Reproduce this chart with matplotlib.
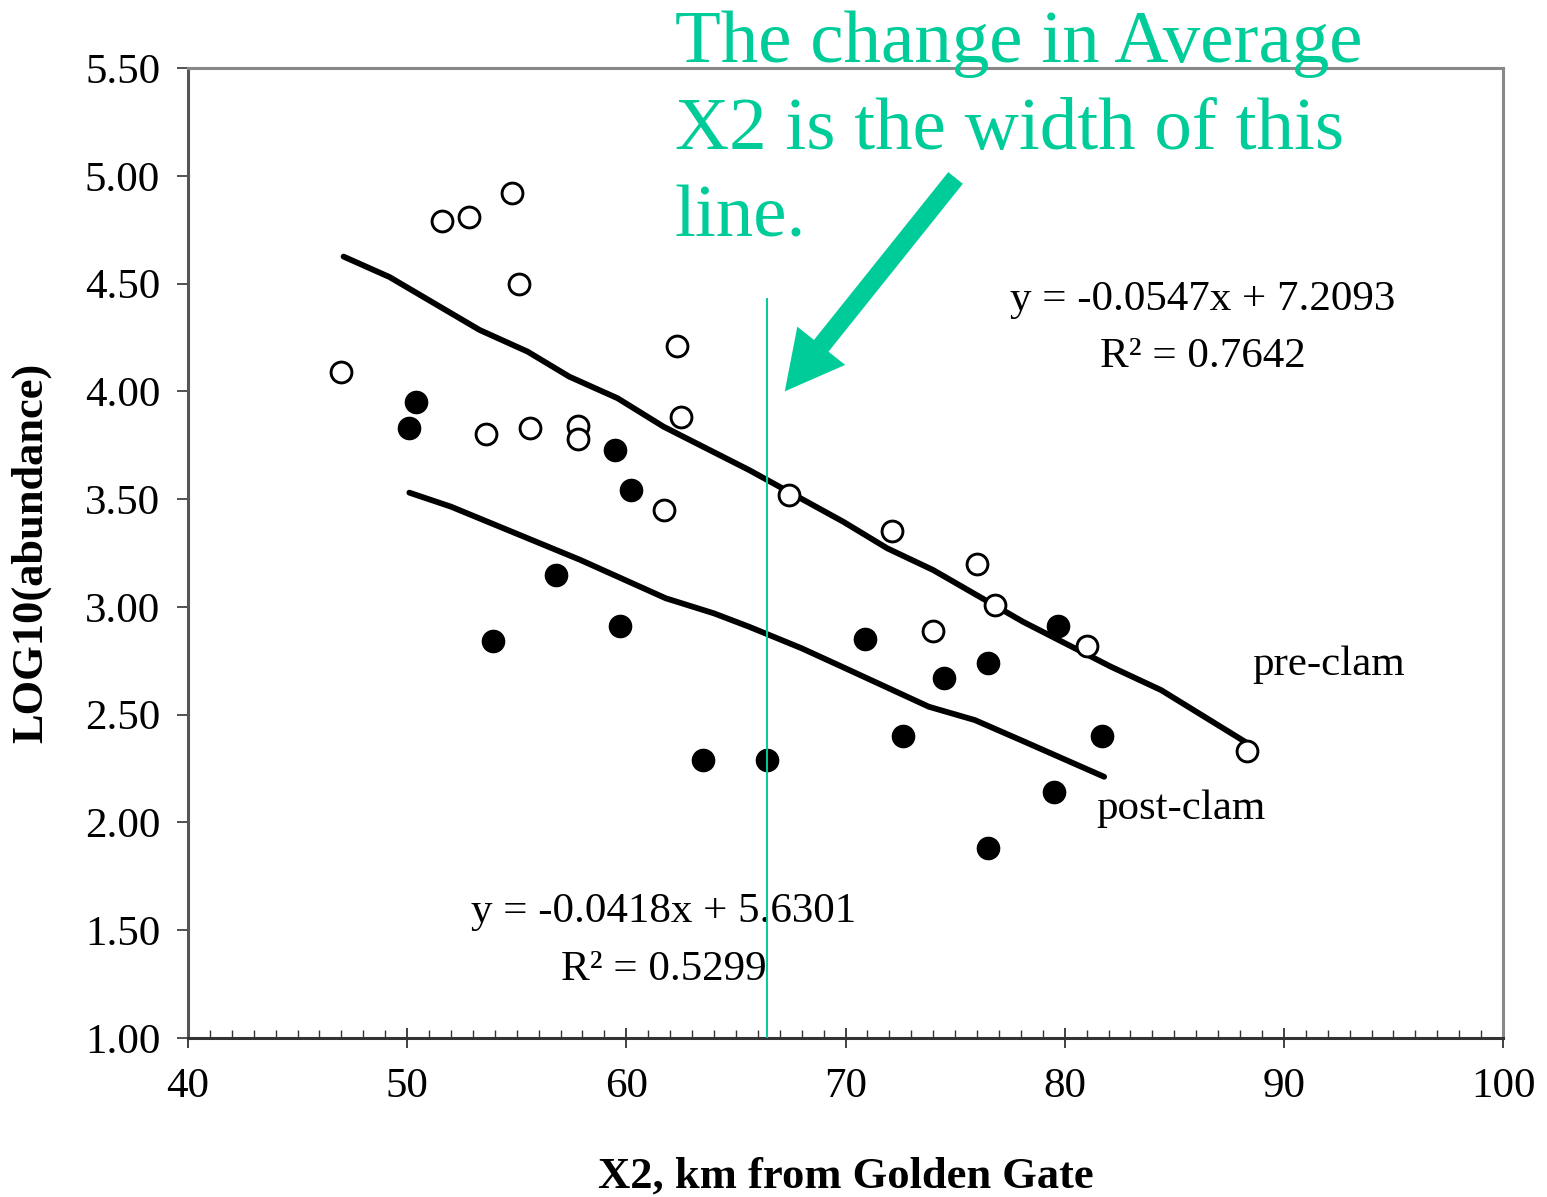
import matplotlib
matplotlib.use("Agg")
import matplotlib.pyplot as plt
from matplotlib.ticker import MultipleLocator, FormatStrFormatter

plt.rcParams['font.family'] = ['Liberation Serif', 'DejaVu Serif']

green = '#00cc99'

# pre-clam samples (open circles)
pre_x = [47.0, 51.6, 52.8, 54.8, 55.1, 53.6, 55.6, 57.8, 57.8, 61.7,
         62.3, 62.5, 67.4, 72.1, 76.0, 76.8, 74.0, 81.0, 88.3]
pre_y = [4.09, 4.79, 4.81, 4.92, 4.50, 3.80, 3.83, 3.84, 3.78, 3.45,
         4.21, 3.88, 3.52, 3.35, 3.20, 3.01, 2.89, 2.82, 2.33]

# post-clam samples (filled circles)
post_x = [50.4, 50.1, 59.5, 60.2, 56.8, 53.9, 59.7, 63.5, 66.4, 70.9,
          79.7, 76.5, 74.5, 72.6, 81.7, 79.5, 76.5]
post_y = [3.95, 3.83, 3.73, 3.54, 3.15, 2.84, 2.91, 2.29, 2.29, 2.85,
          2.91, 2.74, 2.67, 2.40, 2.40, 2.14, 1.88]

# trend lines as drawn (slightly wobbly)
pre_line_x = [47.1, 49.2, 53.3, 55.5, 57.4, 59.6, 61.7, 65.6, 69.9,
              71.9, 74.0, 78.1, 82.1, 84.4, 88.3]
pre_line_y = [4.625, 4.53, 4.285, 4.184, 4.068, 3.968, 3.836, 3.635, 3.395,
              3.272, 3.171, 2.931, 2.723, 2.614, 2.37]
post_line_x = [50.1, 52.0, 57.9, 61.8, 64.0, 65.6, 68.0, 70.0, 73.8, 75.9, 78.0, 81.8]
post_line_y = [3.53, 3.465, 3.218, 3.04, 2.97, 2.908, 2.808, 2.715, 2.537, 2.475, 2.382, 2.212]

x2_mark = 66.4

fig = plt.figure(figsize=(15.47, 11.97), dpi=100)
ax = fig.add_axes([0.1215, 0.1328, 0.9716 - 0.1215, 0.9432 - 0.1328])

ax.plot(pre_line_x, pre_line_y, color='black', lw=4.2, solid_capstyle='round', zorder=2)
ax.plot(post_line_x, post_line_y, color='black', lw=4.2, solid_capstyle='round', zorder=2)
ax.plot(pre_x, pre_y, 'o', ms=15, mfc='white', mec='black', mew=2.1, zorder=3)
ax.plot(post_x, post_y, 'o', ms=16, mfc='black', mec='black', zorder=3)

ax.plot([x2_mark, x2_mark], [1.0, 4.43], color=green, lw=1.4, zorder=4)

ax.set_xlim(40, 100)
ax.set_ylim(1.0, 5.5)
ax.xaxis.set_major_locator(MultipleLocator(10))
ax.xaxis.set_minor_locator(MultipleLocator(1))
ax.yaxis.set_major_locator(MultipleLocator(0.5))
ax.yaxis.set_major_formatter(FormatStrFormatter('%.2f'))
ax.tick_params(axis='x', which='major', direction='inout', length=15, width=1.3,
               labelsize=31, pad=14, color='#333333')
ax.tick_params(axis='x', which='minor', direction='in', length=6, width=1.0, color='#333333')
ax.tick_params(axis='y', which='major', direction='out', length=8, width=1.3,
               labelsize=31, pad=12, color='#444444')
ax.tick_params(axis='y', which='minor', left=False)

ax.spines['left'].set_color('#555555')
ax.spines['bottom'].set_color('#333333')
ax.spines['top'].set_color('#888888')
ax.spines['right'].set_color('#888888')
for s in ax.spines.values():
    s.set_linewidth(2.2)

ax.set_xlabel('X2, km from Golden Gate', fontsize=32, fontweight='bold')
ax.xaxis.label.set_va('center')
ax.xaxis.set_label_coords(0.5, -0.143)
ax.set_ylabel('LOG10(abundance)', fontsize=32, fontweight='bold')
ax.yaxis.label.set_va('center')
ax.yaxis.set_label_coords(-0.1215 * 1547 / 1315 + 31 / 1315, 0.5)

ax.text(86.3, 4.424, 'y = -0.0547x + 7.2093', fontsize=31, ha='center', va='center')
ax.text(86.3, 4.159, 'R² = 0.7642', fontsize=31, ha='center', va='center')
ax.text(61.7, 1.585, 'y = -0.0418x + 5.6301', fontsize=31, ha='center', va='center')
ax.text(61.7, 1.316, 'R² = 0.5299', fontsize=31, ha='center', va='center')
ax.text(88.55, 2.73, 'pre-clam', fontsize=31, ha='left', va='center')
ax.text(81.45, 2.065, 'post-clam', fontsize=31, ha='left', va='center')

ax.annotate('', xy=(67.15, 3.99), xytext=(75.1, 5.0),
            arrowprops=dict(arrowstyle='simple,head_length=1.0,head_width=1.05,tail_width=0.32',
                            mutation_scale=42, color=green, lw=0),
            annotation_clip=False, zorder=5)

fig.text(675 / 1547, 1 - 10 / 1197,
         'The change in Average\nX2 is the width of this\nline.',
         color=green, fontsize=54, ha='left', va='top', linespacing=1.39)

fig.savefig('out.png', dpi=100)
